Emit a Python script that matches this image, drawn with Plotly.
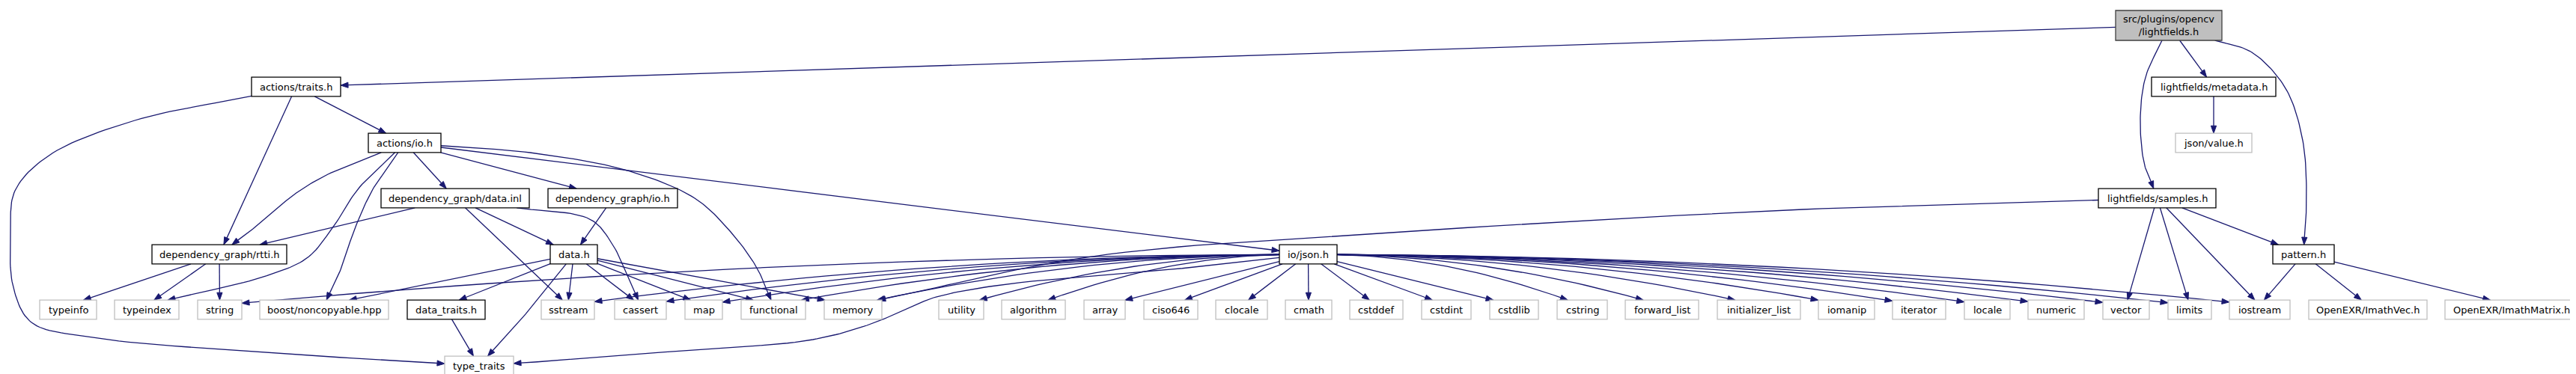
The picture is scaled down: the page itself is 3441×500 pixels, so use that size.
import plotly.graph_objects as go

# include graph of src/plugins/opencv/lightfields.h
root = "src/plugins/opencv<br>/lightfields.h"
documented = ["actions/traits.h", "lightfields/metadata.h", "actions/io.h",
              "dependency_graph/data.inl", "dependency_graph/io.h", "lightfields/samples.h",
              "dependency_graph/rtti.h", "data.h", "io/json.h", "pattern.h", "data_traits.h"]
system = ["json/value.h", "typeinfo", "typeindex", "string", "boost/noncopyable.hpp",
          "sstream", "cassert", "map", "functional", "memory", "utility", "algorithm",
          "array", "ciso646", "clocale", "cmath", "cstddef", "cstdint", "cstdlib", "cstring",
          "forward_list", "initializer_list", "iomanip", "iterator", "locale", "numeric",
          "vector", "limits", "iostream", "OpenEXR/ImathVec.h", "OpenEXR/ImathMatrix.h",
          "type_traits"]

json_includes = ["string", "sstream", "cassert", "map", "functional", "memory", "type_traits",
                 "utility", "algorithm", "array", "ciso646", "clocale", "cmath", "cstddef",
                 "cstdint", "cstdlib", "cstring", "forward_list", "initializer_list", "iomanip",
                 "iterator", "locale", "numeric", "vector", "limits", "iostream"]

edges = [
    (root, "actions/traits.h"), (root, "lightfields/metadata.h"),
    (root, "lightfields/samples.h"), (root, "pattern.h"),
    ("lightfields/metadata.h", "json/value.h"),
    ("actions/traits.h", "actions/io.h"), ("actions/traits.h", "dependency_graph/rtti.h"),
    ("actions/traits.h", "type_traits"),
    ("actions/io.h", "dependency_graph/rtti.h"), ("actions/io.h", "typeindex"),
    ("actions/io.h", "boost/noncopyable.hpp"), ("actions/io.h", "dependency_graph/data.inl"),
    ("actions/io.h", "dependency_graph/io.h"), ("actions/io.h", "io/json.h"),
    ("actions/io.h", "functional"),
    ("dependency_graph/data.inl", "dependency_graph/rtti.h"), ("dependency_graph/data.inl", "data.h"),
    ("dependency_graph/data.inl", "sstream"), ("dependency_graph/data.inl", "cassert"),
    ("dependency_graph/io.h", "data.h"),
    ("dependency_graph/rtti.h", "typeinfo"), ("dependency_graph/rtti.h", "typeindex"),
    ("dependency_graph/rtti.h", "string"),
    ("data.h", "boost/noncopyable.hpp"), ("data.h", "data_traits.h"), ("data.h", "type_traits"),
    ("data.h", "sstream"), ("data.h", "cassert"), ("data.h", "map"), ("data.h", "functional"),
    ("data.h", "memory"),
    ("data_traits.h", "type_traits"),
    ("lightfields/samples.h", "memory"), ("lightfields/samples.h", "vector"),
    ("lightfields/samples.h", "limits"), ("lightfields/samples.h", "iostream"),
    ("lightfields/samples.h", "pattern.h"),
    ("pattern.h", "iostream"), ("pattern.h", "OpenEXR/ImathVec.h"), ("pattern.h", "OpenEXR/ImathMatrix.h"),
] + [("io/json.h", t) for t in json_includes]

# layout: x extent and rank of every box
rank_y = [26, 108, 183, 257, 332, 406, 481]
place = {
    root: (2818, 2960, 0),
    "actions/traits.h": (328, 447, 1), "lightfields/metadata.h": (2866, 3032, 1),
    "actions/io.h": (484, 581, 2), "json/value.h": (2898, 3000, 2),
    "dependency_graph/data.inl": (501, 699, 3), "dependency_graph/io.h": (724, 897, 3),
    "lightfields/samples.h": (2795, 2952, 3),
    "dependency_graph/rtti.h": (195, 375, 4), "data.h": (727, 790, 4),
    "io/json.h": (1701, 1778, 4), "pattern.h": (3028, 3110, 4),
    "type_traits": (586, 678, 6),
}
bottom_row = ["typeinfo", "typeindex", "string", "boost/noncopyable.hpp", "data_traits.h",
              "sstream", "cassert", "map", "functional", "memory", "utility", "algorithm",
              "array", "ciso646", "clocale", "cmath", "cstddef", "cstdint", "cstdlib", "cstring",
              "forward_list", "initializer_list", "iomanip", "iterator", "locale", "numeric",
              "vector", "limits", "iostream", "OpenEXR/ImathVec.h", "OpenEXR/ImathMatrix.h"]
bottom_x = [(45, 121), (145, 231), (256, 315), (339, 511), (536, 640), (715, 786), (813, 882),
            (907, 957), (982, 1068), (1093, 1170), (1246, 1306), (1330, 1415), (1440, 1495),
            (1520, 1592), (1616, 1685), (1709, 1771), (1795, 1866), (1891, 1957), (1982, 2047),
            (2072, 2139), (2163, 2261), (2286, 2397), (2421, 2496), (2520, 2591), (2616, 2677),
            (2701, 2776), (2801, 2863), (2888, 2946), (2970, 3051), (3076, 3234), (3258, 3435)]
for name, (a, b) in zip(bottom_row, bottom_x):
    place[name] = (a, b, 5)

# bends of the curved edges
bends = {
    (root, "lightfields/samples.h"): [(2858, 95), (2851, 150), (2856, 210)],
    (root, "pattern.h"): [(3000, 62), (3045, 110), (3068, 180), (3073, 260)],
    ("actions/traits.h", "type_traits"): [(172, 153), (57, 200), (12, 247), (6, 300), (10, 377),
                                          (34, 423), (115, 443), (344, 463)],
    ("actions/io.h", "dependency_graph/rtti.h"): [(430, 225), (385, 252), (340, 290)],
    ("actions/io.h", "typeindex"): [(470, 245), (436, 297), (402, 337), (344, 362)],
    ("actions/io.h", "boost/noncopyable.hpp"): [(490, 245), (465, 300), (448, 350)],
    ("actions/io.h", "functional"): [(700, 196), (830, 220), (920, 257), (968, 302), (1003, 350)],
    ("dependency_graph/data.inl", "cassert"): [(780, 285), (808, 315), (830, 360)],
    ("data.h", "type_traits"): [(700, 405)],
    ("io/json.h", "type_traits"): [(1600, 348), (1328, 373), (1239, 390), (1208, 403), (1150, 427),
                                   (1072, 447), (900, 461), (750, 473)],
    ("lightfields/samples.h", "memory"): [(2400, 272), (1850, 303), (1450, 335)],
}
bowed = ["io/json.h"]

edge_color = "#191970"


def box(name):
    x0, x1, r = place[name]
    h = 20 if name == root else 12.8
    return x0, x1, rank_y[r] - h, rank_y[r] + h


def centre(name):
    x0, x1, y0, y1 = box(name)
    return (x0 + x1) / 2, (y0 + y1) / 2


def leave(b, p, q):
    # point where segment p->q leaves box b (p inside)
    x0, x1, y0, y1 = b
    dx, dy = q[0] - p[0], q[1] - p[1]
    ts = []
    if dx > 0: ts.append((x1 - p[0]) / dx)
    if dx < 0: ts.append((x0 - p[0]) / dx)
    if dy > 0: ts.append((y1 - p[1]) / dy)
    if dy < 0: ts.append((y0 - p[1]) / dy)
    t = min(ts)
    return p[0] + t * dx, p[1] + t * dy


def smooth(pts, steps=16):
    # centripetal catmull-rom through the points
    if len(pts) < 3:
        return pts
    ext = [(2 * pts[0][0] - pts[1][0], 2 * pts[0][1] - pts[1][1])] + pts + \
          [(2 * pts[-1][0] - pts[-2][0], 2 * pts[-1][1] - pts[-2][1])]
    out = [pts[0]]
    for i in range(1, len(ext) - 2):
        p0, p1, p2, p3 = ext[i - 1], ext[i], ext[i + 1], ext[i + 2]

        def tj(ti, a, b):
            return ti + max(((b[0] - a[0]) ** 2 + (b[1] - a[1]) ** 2) ** 0.25, 1e-6)
        t0 = 0
        t1 = tj(t0, p0, p1)
        t2 = tj(t1, p1, p2)
        t3 = tj(t2, p2, p3)
        for k in range(1, steps + 1):
            t = t1 + (t2 - t1) * k / steps
            pt = []
            for d in range(2):
                a1 = (t1 - t) / (t1 - t0) * p0[d] + (t - t0) / (t1 - t0) * p1[d]
                a2 = (t2 - t) / (t2 - t1) * p1[d] + (t - t1) / (t2 - t1) * p2[d]
                a3 = (t3 - t) / (t3 - t2) * p2[d] + (t - t2) / (t3 - t2) * p3[d]
                b1 = (t2 - t) / (t2 - t0) * a1 + (t - t0) / (t2 - t0) * a2
                b2 = (t3 - t) / (t3 - t1) * a2 + (t - t1) / (t3 - t1) * a3
                pt.append((t2 - t) / (t2 - t1) * b1 + (t - t1) / (t2 - t1) * b2)
            out.append(tuple(pt))
    return out


def quad(a, c, b, steps=30):
    return [((1 - u) ** 2 * a[0] + 2 * u * (1 - u) * c[0] + u * u * b[0],
             (1 - u) ** 2 * a[1] + 2 * u * (1 - u) * c[1] + u * u * b[1])
            for u in [k / steps for k in range(steps + 1)]]


lx, ly, hx, hy = [], [], [], []
for s, t in edges:
    cs = centre(s)
    ct = centre(t)
    aim = (ct[0], ct[1] - (6 if place[t][2] == 5 else 0))
    via = bends.get((s, t), [])
    ctrl = None
    if not via and s in bowed and abs(ct[0] - cs[0]) > 300:
        ctrl = (ct[0] + 0.5 * (cs[0] - ct[0]), cs[1] + 3)
        start = leave(box(s), cs, ctrl)
        tip = leave(box(t), aim, ctrl)
        prev = ctrl
    else:
        first = via[0] if via else aim
        last = via[-1] if via else cs
        start = leave(box(s), cs, first)
        tip = leave(box(t), aim, last)
        prev = via[-1] if via else start
    dx, dy = tip[0] - prev[0], tip[1] - prev[1]
    n = (dx * dx + dy * dy) ** 0.5
    ux, uy = dx / n, dy / n
    base = (tip[0] - 10 * ux, tip[1] - 10 * uy)
    if ctrl:
        pts = quad(start, ctrl, base)
    else:
        pts = smooth([start] + via + [base])
    lx += [p[0] for p in pts] + [None]
    ly += [p[1] for p in pts] + [None]
    hx += [tip[0], base[0] - 3.6 * uy, base[0] + 3.6 * uy, tip[0], None]
    hy += [tip[1], base[1] + 3.6 * ux, base[1] - 3.6 * ux, tip[1], None]

fig = go.Figure()
fig.add_trace(go.Scatter(x=lx, y=ly, mode="lines", hoverinfo="skip",
                         line=dict(color=edge_color, width=1.3)))
fig.add_trace(go.Scatter(x=hx, y=hy, mode="lines", fill="toself", fillcolor=edge_color,
                         hoverinfo="skip", line=dict(color=edge_color, width=1)))

for name in place:
    x0, x1, y0, y1 = box(name)
    if name == root:
        fill, border = "#bfbfbf", "#404040"
    elif name in documented:
        fill, border = "white", "black"
    else:
        fill, border = "white", "#bfbfbf"
    fig.add_shape(type="rect", x0=x0, x1=x1, y0=y0, y1=y1, fillcolor=fill,
                  line=dict(color=border, width=1.3), layer="above")
    cx, cy = centre(name)
    fig.add_annotation(x=cx, y=cy, text=name, showarrow=False,
                       font=dict(family="DejaVu Sans", size=13, color="black"))

fig.update_layout(width=3441, height=500, margin=dict(l=0, r=0, t=0, b=0),
                  paper_bgcolor="white", plot_bgcolor="white", showlegend=False,
                  xaxis=dict(range=[0, 3441], visible=False, fixedrange=True),
                  yaxis=dict(range=[500, 0], visible=False, fixedrange=True))

fig.write_html("out.html")
